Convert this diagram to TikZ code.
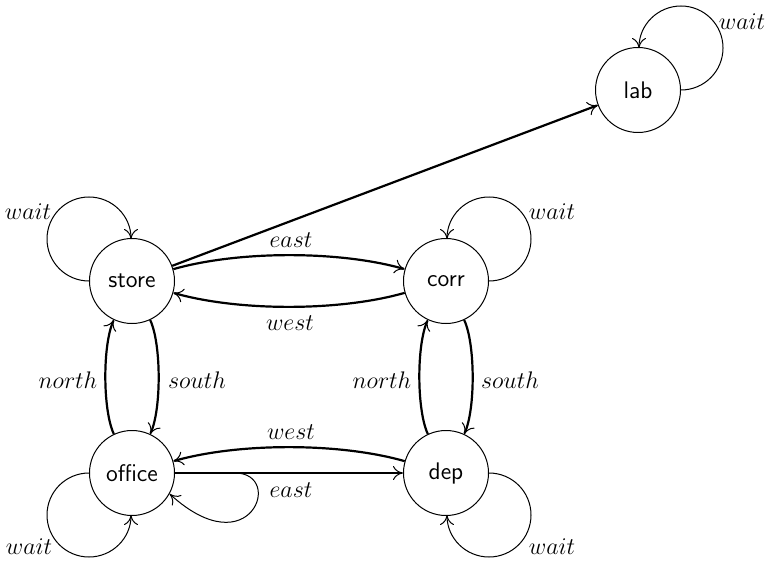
\documentclass[tikz,border=0pt]{standalone}
\usetikzlibrary{arrows.meta}
\begin{document}
\begin{tikzpicture}[x=0.5pt,y=0.5pt,
  state/.style={circle,draw,line width=0.5pt,minimum size=42.5pt,inner sep=0pt,font=\fontsize{12}{14}\selectfont\sffamily},
  tr/.style={line width=1.1pt,-{To[length=5pt,width=7pt,line width=0.5pt]}},
  selfloop/.style={line width=0.5pt,-{To[length=5pt,width=7pt,line width=0.5pt]}},
  lbl/.style={font=\fontsize{12}{14}\selectfont,inner sep=1pt}]
\useasboundingbox (0,0) rectangle (769,563);
\node[state] (lab) at (638,473) {lab};
\node[state] (store) at (132,282) {store};
\node[state] (corr) at (446,282) {corr};
\node[state] (office) at (132,90) {office};
\node[state] (dep) at (446,90) {dep};
% transitions
\draw[tr] (store) -- (lab);
\draw[tr] (store) to[bend left=16,looseness=0.75] (corr);
\draw[tr] (corr) to[bend left=16,looseness=0.75] (store);
\draw[tr] (store) to[bend left=25,looseness=0.6] (office);
\draw[tr] (office) to[bend left=25,looseness=0.6] (store);
\draw[tr] (corr) to[bend left=25,looseness=0.6] (dep);
\draw[tr] (dep) to[bend left=25,looseness=0.6] (corr);
\draw[tr] (dep) to[bend right=16,looseness=0.75] (office);
\draw[tr] (office) -- (dep);
% self loops
\draw[selfloop] (store.west) arc[start angle=270,end angle=0,radius=21pt];
\draw[selfloop] (corr.east) arc[start angle=-90,end angle=180,radius=21pt];
\draw[selfloop] (lab.east) arc[start angle=-90,end angle=180,radius=21pt];
\draw[selfloop] (office.west) arc[start angle=90,end angle=360,radius=21pt];
\draw[selfloop] (dep.east) arc[start angle=90,end angle=-180,radius=21pt];
\draw[selfloop] (office.east) -- ++(60,0) .. controls +(50,0) and +(81,-74) .. (office.-29);
% labels
\node[lbl] (l1) at (291,323) {$east$};
\node[lbl] (l2) at (290,240) {$west$};
\node[lbl] (l3) at (68,183) {$north$};
\node[lbl] (l4) at (197,183) {$south$};
\node[lbl] (l5) at (382,183) {$north$};
\node[lbl] (l6) at (510,183) {$south$};
\node[lbl] (l7) at (291,131) {$west$};
\node[lbl] (l8) at (291,73) {$east$};
\node[lbl] (l9) at (28,351) {$wait$};
\node[lbl] (l10) at (552,351) {$wait$};
\node[lbl] (l11) at (742,541) {$wait$};
\node[lbl] (l12) at (29,16) {$wait$};
\node[lbl] (l13) at (552,16) {$wait$};
\end{tikzpicture}
\end{document}
